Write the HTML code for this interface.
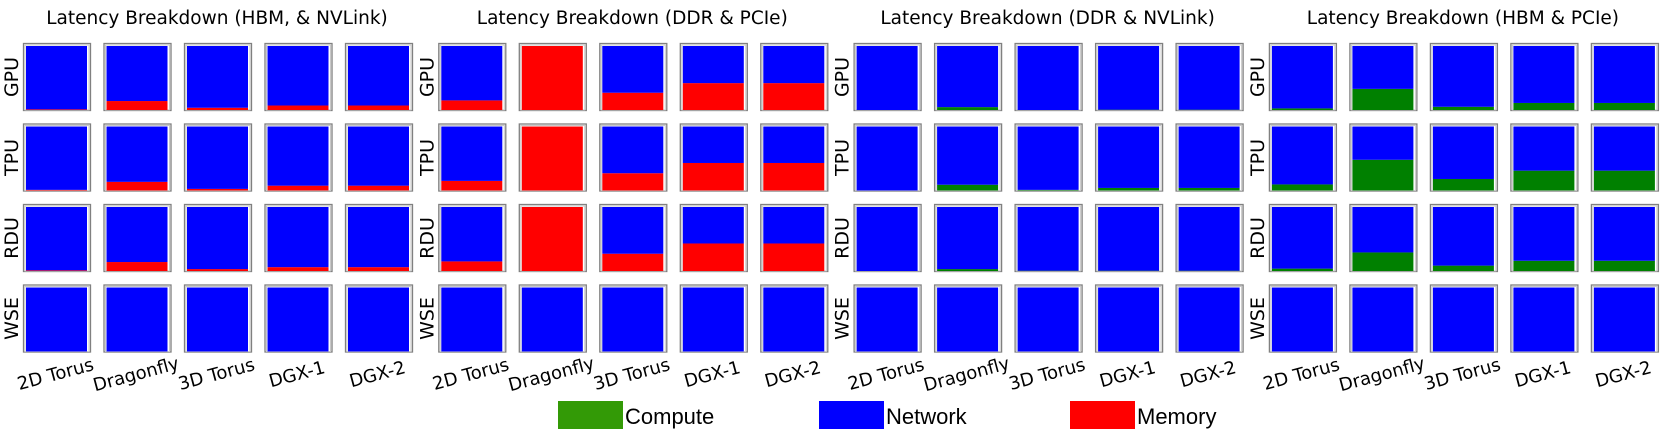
<!DOCTYPE html>
<html><head><meta charset="utf-8">
<style>
html,body{margin:0;padding:0;background:#fff;}
svg{display:block;font-family:"DejaVu Sans","Liberation Sans",sans-serif;}
</style></head>
<body>
<svg id="chart" width="1661" height="430" viewBox="0 0 1661 430" xmlns="http://www.w3.org/2000/svg"></svg>
<script>
const panelTitles = ["Latency Breakdown (HBM, & NVLink)","Latency Breakdown (DDR & PCIe)","Latency Breakdown (DDR & NVLink)","Latency Breakdown (HBM & PCIe)"];
const rowLabels = ["GPU","TPU","RDU","WSE"];
const colLabels = ["2D Torus","Dragonfly","3D Torus","DGX-1","DGX-2"];
// fractions (0-1) per panel [row][col]
const computeP1 = [[0,0,0,0,0],[0,0,0,0,0],[0,0,0,0,0],[0,0,0,0,0]];
const memoryP1 = [[0.01,0.14,0.035,0.07,0.07],[0.01,0.135,0.025,0.075,0.075],[0.01,0.14,0.03,0.06,0.06],[0,0,0,0,0]];
const computeP2 = [[0,0,0,0,0],[0,0,0,0,0],[0,0,0,0,0],[0,0,0,0,0]];
const memoryP2 = [[0.15,1,0.27,0.42,0.42],[0.15,1,0.27,0.43,0.43],[0.15,1,0.27,0.43,0.43],[0,0,0,0,0]];
const computeP3 = [[0,0.045,0,0.005,0.005],[0,0.09,0.01,0.04,0.04],[0,0.03,0.005,0.005,0.005],[0,0,0,0,0]];
const memoryP3 = [[0,0,0,0,0],[0,0,0,0,0],[0,0,0,0,0],[0,0,0,0,0]];
const computeP4 = [[0.025,0.33,0.05,0.11,0.11],[0.095,0.48,0.18,0.31,0.31],[0.037,0.29,0.084,0.16,0.16],[0,0,0,0,0]];
const memoryP4 = [[0,0,0,0,0],[0,0,0,0,0],[0,0,0,0,0],[0,0,0,0,0]];
const legendLabels = ["Compute","Network","Memory"];

const computeAll=[computeP1,computeP2,computeP3,computeP4];
const memoryAll=[memoryP1,memoryP2,memoryP3,memoryP4];
const NS="http://www.w3.org/2000/svg";
const svg=document.getElementById('chart');
function mk(tag,attrs){const e=document.createElementNS(NS,tag);for(const k in attrs)e.setAttribute(k,attrs[k]);return e;}
const panelX=p=>23+p*415.3, colX=c=>c*80.5, rowY=r=>43+r*80.5;
const FW=67, BX0=3, BX1=64, BY0=3, BY1=67;
const yScale=(y0,f)=>y0+BY1-f*(BY1-BY0);
const COL={compute:"#008000",network:"#0000ff",memory:"#ff0000"};

for(let p=0;p<4;p++){
  const g=mk('g',{});
  
  
  svg.appendChild(g);
  const t=mk('text',{x:panelX(p)+194,y:24,'font-size':18.5,'text-anchor':'middle',fill:'#000'});
  
  
  t.textContent=panelTitles[p];g.appendChild(t);
  for(let r=0;r<4;r++){
    const ry=rowY(r);
    const rl=mk('text',{x:0,y:0,'font-size':19,'text-anchor':'middle',transform:`translate(${panelX(p)-5},${ry+34}) rotate(-90)`});
    
    
    rl.textContent=rowLabels[r];g.appendChild(rl);
    for(let c=0;c<5;c++){
      const x0=panelX(p)+colX(c);
      const fr=mk('rect',{x:x0+0.5,y:ry+0.5,width:FW,height:FW,fill:'#fff',stroke:'#808080','stroke-width':1.3});
      
      
      g.appendChild(fr);
      g.appendChild(mk('rect',{x:x0+2,y:ry+2,width:FW-3,height:FW-2,fill:'none',stroke:'#c8c8c8','stroke-width':1}));
      const cf=computeAll[p][r][c], mf=memoryAll[p][r][c];
      const segs=[["compute",0,cf],["memory",cf,cf+mf],["network",cf+mf,1]];
      for(const [k,a,b] of segs){
        if(b-a<=0)continue;
        const yT=yScale(ry,b), yB=yScale(ry,a);
        const br=mk('rect',{x:x0+BX0,y:yT,width:BX1-BX0,height:yB-yT,fill:COL[k]});
        
        
        g.appendChild(br);
      }
      if(r===3){
        const cx=x0+34;
        const xl=mk('text',{x:0,y:0,'font-size':18,'text-anchor':'middle',transform:`translate(${cx},${380}) rotate(-15)`});
        
        
        xl.textContent=colLabels[c];g.appendChild(xl);
      }
    }
  }
}
// legend
const legX=[558,819,1070], legCol=["#339a06","#0000ff","#ff0000"];
for(let i=0;i<3;i++){
  const le=mk('g',{});
  
  
  le.appendChild(mk('rect',{x:legX[i],y:401,width:65,height:28,fill:legCol[i]}));
  const lt=mk('text',{x:legX[i]+67,y:424,'font-size':22,fill:'#000','font-family':'"Liberation Sans Narrow","Liberation Sans",sans-serif'});
  lt.textContent=legendLabels[i];le.appendChild(lt);
  svg.appendChild(le);
}
</script>
</body></html>
